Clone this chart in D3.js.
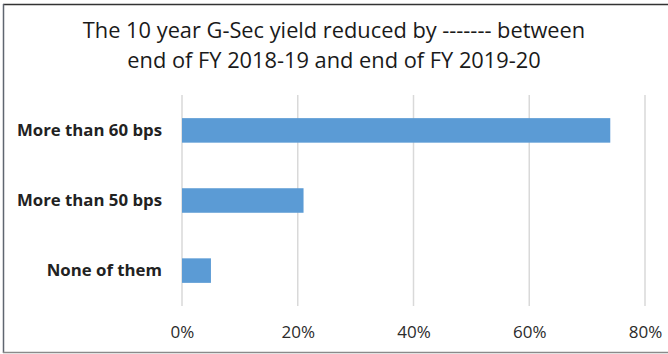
<!DOCTYPE html>
<html>
<head>
<meta charset="utf-8">
<script src="https://cdn.jsdelivr.net/npm/d3@7"></script>
<style>
  html, body { margin: 0; padding: 0; background: #fff; }
  svg { display: block; font-family: "Open Sans", "Noto Sans", sans-serif; }
</style>
</head>
<body>
<svg id="chart" width="668" height="354"></svg>
<script>
// Survey responses: share of respondents choosing each answer
const categories = ["More than 60 bps", "More than 50 bps", "None of them"];
const shares = [74, 21, 5];
const tickValues = [0, 20, 40, 60, 80];
const titleLines = [
  "The 10 year G-Sec yield reduced by ------- between",
  "end of FY 2018-19 and end of FY 2019-20"
];

const svg = d3.select("#chart");
const W = 668, H = 354;
const margin = { left: 182, right: 23, top: 95, bottom: 48 };

// Frame edges (top, left, bottom)
const frame = svg.append("g").attr("fill", "none");
frame.append("line").attr("x1", 3).attr("x2", W).attr("y1", 4.5).attr("y2", 4.5)
  .attr("stroke", "#333").attr("stroke-width", 1.5);
frame.append("line").attr("x1", 3.5).attr("x2", 3.5).attr("y1", 4).attr("y2", 353)
  .attr("stroke", "#5f6670").attr("stroke-width", 1.5);
frame.append("line").attr("x1", 3).attr("x2", W).attr("y1", 352.5).attr("y2", 352.5)
  .attr("stroke", "#8a8a8a").attr("stroke-width", 1.5);

// Title
svg.append("g").selectAll("text")
  .data(titleLines)
  .join("text")
  .attr("x", 334)
  .attr("y", (d, i) => 38 + i * 30)
  .attr("text-anchor", "middle")
  .attr("font-size", 21.8)
  .attr("fill", "#1a1a1a")
  .text(d => d);

const x = d3.scaleLinear()
  .domain([0, 80])
  .range([margin.left, W - margin.right]);

const y = d3.scaleBand()
  .domain(categories)
  .range([margin.top, H - margin.bottom])
  .paddingInner(0.65)
  .paddingOuter(0.33);

// Vertical gridlines
svg.append("g")
  .selectAll("line")
  .data(tickValues)
  .join("line")
  .attr("x1", d => x(d)).attr("x2", d => x(d))
  .attr("y1", margin.top).attr("y2", H - margin.bottom)
  .attr("stroke", "#d9d9d9").attr("stroke-width", 1.5);

// Bars
svg.append("g")
  .selectAll("rect")
  .data(categories)
  .join("rect")
  .attr("x", x(0))
  .attr("y", d => y(d))
  .attr("width", (d, i) => x(shares[i]) - x(0))
  .attr("height", y.bandwidth())
  .attr("fill", "#5b9bd5");

// X axis (tick labels only)
const xAxis = svg.append("g")
  .attr("transform", `translate(0,${H - margin.bottom})`)
  .call(d3.axisBottom(x).tickValues(tickValues).tickFormat(d => d + "%").tickSize(0).tickPadding(20));
xAxis.select(".domain").remove();
xAxis.selectAll("text")
  .attr("font-family", "'Open Sans', sans-serif")
  .attr("font-size", 17)
  .attr("fill", "#2b2b2b");

// Y axis (category labels only)
const yAxis = svg.append("g")
  .attr("transform", `translate(${margin.left},0)`)
  .call(d3.axisLeft(y).tickSize(0).tickPadding(20));
yAxis.select(".domain").remove();
yAxis.selectAll("text")
  .attr("font-family", "'Open Sans', sans-serif")
  .attr("font-size", 16.8)
  .attr("font-weight", "bold")
  .attr("fill", "#222");
</script>
</body>
</html>
